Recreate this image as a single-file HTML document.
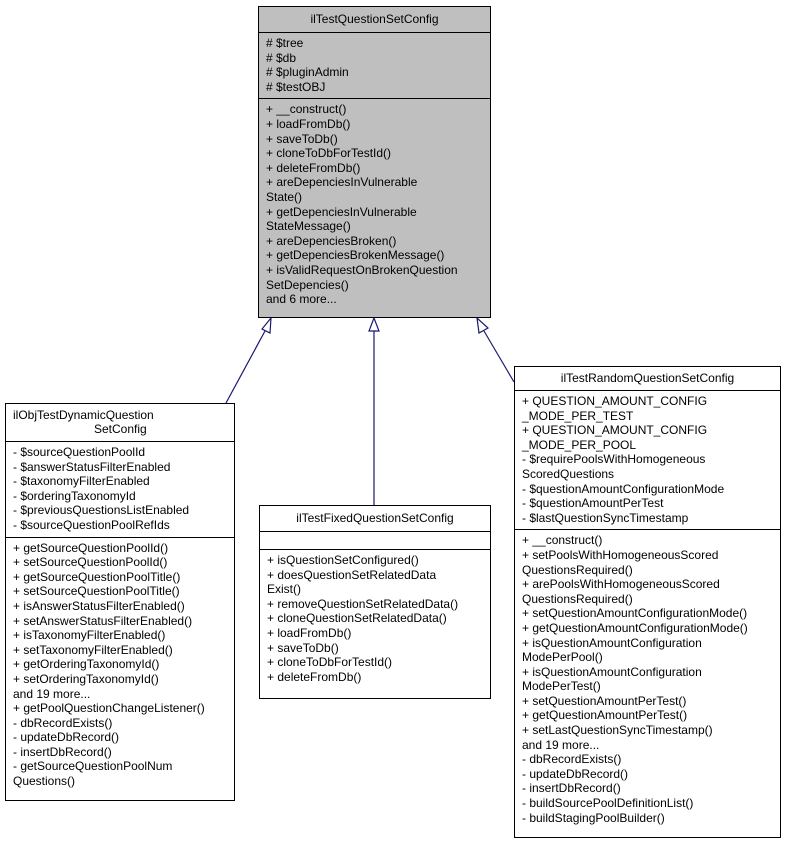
<!DOCTYPE html>
<html><head><meta charset="utf-8"><style>
body{margin:0;width:787px;height:844px;background:#fff;position:relative;overflow:hidden;font-family:"Liberation Sans",Arial,sans-serif;font-size:12px;color:#000}
.b{position:absolute;border:1px solid #000;box-sizing:border-box;background:#fff}
.g{background:#bfbfbf}
.t{text-align:center;line-height:14px;padding:4px 2px 5px;border-bottom:1px solid #000}
.s{line-height:14.6px;padding:3px 7px 4px;white-space:pre;border-bottom:1px solid #000}
.s:last-child{border-bottom:none}
svg{position:absolute;left:0;top:0}
</style></head><body>
<svg width="787" height="844">
<g stroke="#191970" fill="none" stroke-width="1.2">
<line x1="226" y1="403" x2="265" y2="331"/>
<line x1="374" y1="505" x2="374" y2="331"/>
<line x1="514" y1="382" x2="484" y2="331"/>
</g>
<g stroke="#191970" fill="#fff" stroke-width="1.2">
<polygon points="271,318 262,329 270,333"/>
<polygon points="374,318 369,331 379,331"/>
<polygon points="477,318 479,333 488,328"/>
</g>
</svg>
<div class="b g" style="left:258px;top:6px;width:233px;height:312px">
<div class="t" style="padding:5px 2px 6px">ilTestQuestionSetConfig</div>
<div class="s"># $tree
# $db
# $pluginAdmin
# $testOBJ</div>
<div class="s">+ __construct()
+ loadFromDb()
+ saveToDb()
+ cloneToDbForTestId()
+ deleteFromDb()
+ areDepenciesInVulnerable
State()
+ getDepenciesInVulnerable
StateMessage()
+ areDepenciesBroken()
+ getDepenciesBrokenMessage()
+ isValidRequestOnBrokenQuestion
SetDepencies()
and 6 more...</div>
</div>
<div class="b" style="left:5px;top:403px;width:230px;height:398px">
<div class="t" style="text-align:left;padding:4px 7px 5px">ilObjTestDynamicQuestion<br><span style="padding-left:81px">SetConfig</span></div>
<div class="s">- $sourceQuestionPoolId
- $answerStatusFilterEnabled
- $taxonomyFilterEnabled
- $orderingTaxonomyId
- $previousQuestionsListEnabled
- $sourceQuestionPoolRefIds</div>
<div class="s">+ getSourceQuestionPoolId()
+ setSourceQuestionPoolId()
+ getSourceQuestionPoolTitle()
+ setSourceQuestionPoolTitle()
+ isAnswerStatusFilterEnabled()
+ setAnswerStatusFilterEnabled()
+ isTaxonomyFilterEnabled()
+ setTaxonomyFilterEnabled()
+ getOrderingTaxonomyId()
+ setOrderingTaxonomyId()
and 19 more...
+ getPoolQuestionChangeListener()
- dbRecordExists()
- updateDbRecord()
- insertDbRecord()
- getSourceQuestionPoolNum
Questions()</div>
</div>
<div class="b" style="left:259px;top:505px;width:232px;height:194px">
<div class="t" style="padding:5px 2px 6px">ilTestFixedQuestionSetConfig</div>
<div class="s" style="height:17px;padding:0"></div>
<div class="s">+ isQuestionSetConfigured()
+ doesQuestionSetRelatedData
Exist()
+ removeQuestionSetRelatedData()
+ cloneQuestionSetRelatedData()
+ loadFromDb()
+ saveToDb()
+ cloneToDbForTestId()
+ deleteFromDb()</div>
</div>
<div class="b" style="left:514px;top:366px;width:267px;height:472px">
<div class="t" style="padding:4px 2px 5px">ilTestRandomQuestionSetConfig</div>
<div class="s">+ QUESTION_AMOUNT_CONFIG
_MODE_PER_TEST
+ QUESTION_AMOUNT_CONFIG
_MODE_PER_POOL
- $requirePoolsWithHomogeneous
ScoredQuestions
- $questionAmountConfigurationMode
- $questionAmountPerTest
- $lastQuestionSyncTimestamp</div>
<div class="s">+ __construct()
+ setPoolsWithHomogeneousScored
QuestionsRequired()
+ arePoolsWithHomogeneousScored
QuestionsRequired()
+ setQuestionAmountConfigurationMode()
+ getQuestionAmountConfigurationMode()
+ isQuestionAmountConfiguration
ModePerPool()
+ isQuestionAmountConfiguration
ModePerTest()
+ setQuestionAmountPerTest()
+ getQuestionAmountPerTest()
+ setLastQuestionSyncTimestamp()
and 19 more...
- dbRecordExists()
- updateDbRecord()
- insertDbRecord()
- buildSourcePoolDefinitionList()
- buildStagingPoolBuilder()</div>
</div>
</body></html>
